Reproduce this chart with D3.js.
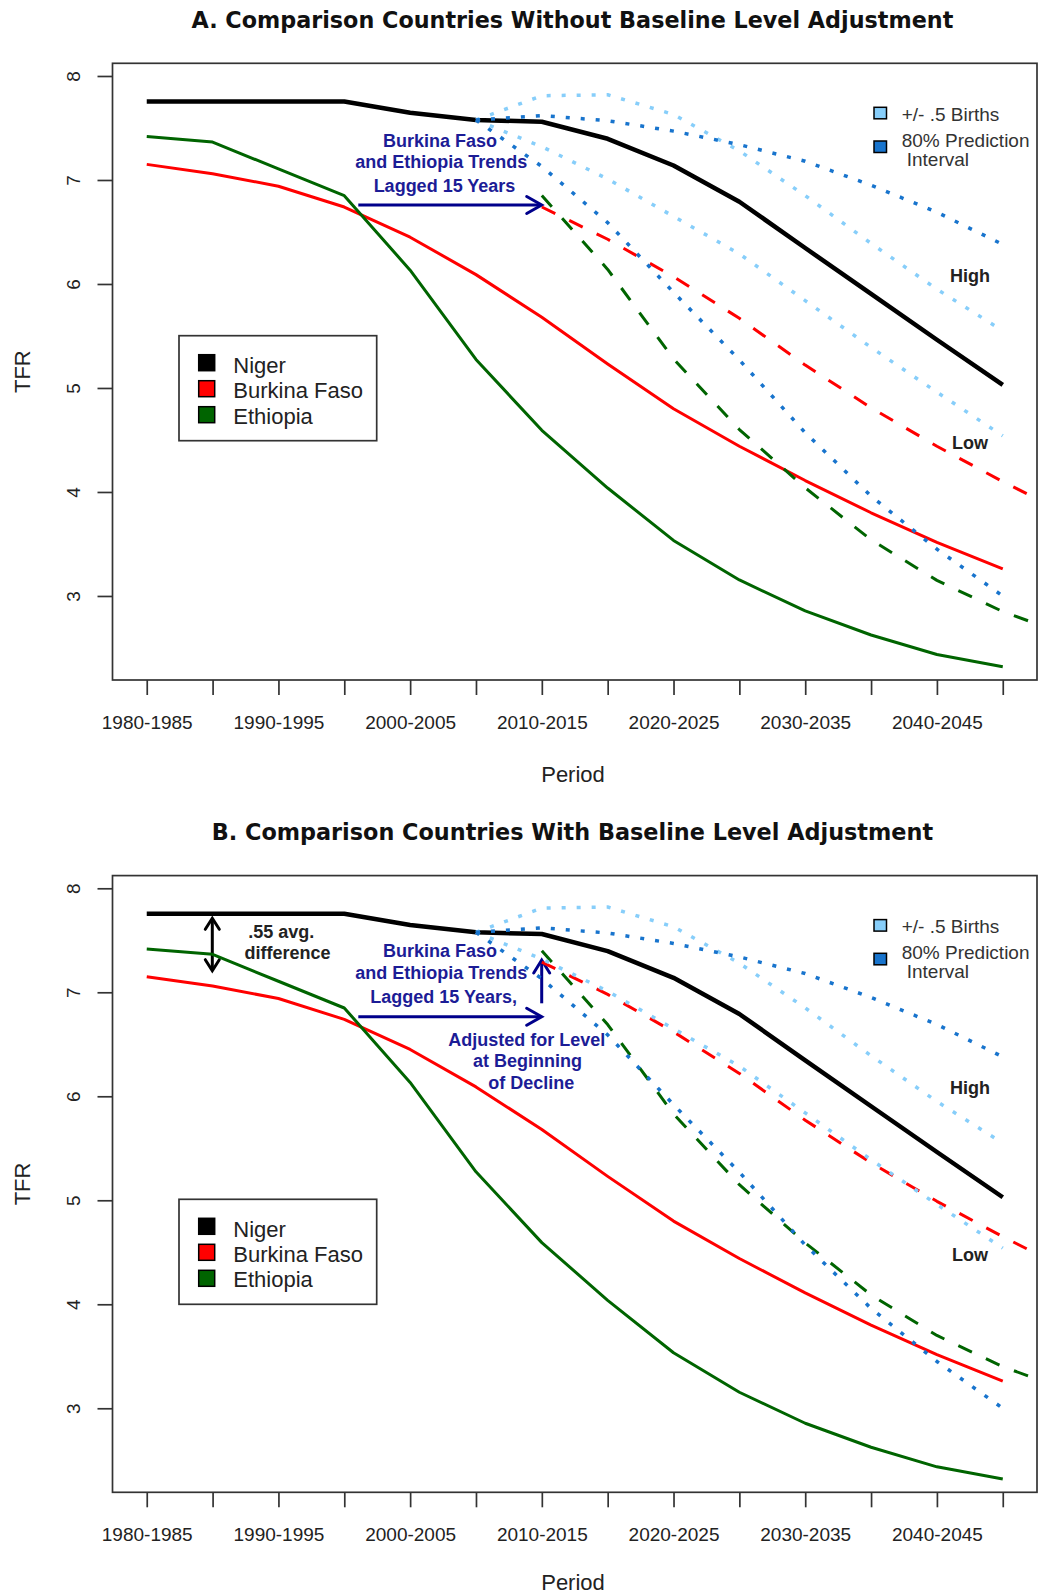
<!DOCTYPE html>
<html><head><meta charset="utf-8">
<script src="https://cdn.jsdelivr.net/npm/d3@7"></script>
<style>body{margin:0;background:#fff}svg{display:block}</style>
</head><body>
<svg id="chart" width="1038" height="1595"></svg>
<script>
// ---------------- data ----------------
const periods = ["1980-1985","1985-1990","1990-1995","1995-2000","2000-2005","2005-2010","2010-2015",
                 "2015-2020","2020-2025","2025-2030","2030-2035","2035-2040","2040-2045","2045-2050"];
const yTicks = [3,4,5,6,7,8];
const countries = ["Niger","Burkina Faso","Ethiopia"];
const niger    = [7.755,7.755,7.755,7.755,7.647,7.577,7.56,7.396,7.139,6.791,6.346,5.904,5.464,5.029];
const burkina  = [7.15,7.06,6.94,6.74,6.45,6.09,5.68,5.23,4.80,4.44,4.11,3.80,3.515,3.26];
const ethiopia = [7.417,7.365,7.106,6.849,6.133,5.274,4.593,4.038,3.534,3.154,2.856,2.625,2.437,2.32];
// lagged trends, periods 2010-2015 .. 2050-2055
const lagStart = 6;
const burkinaLagA  = [6.74,6.43,6.07,5.67,5.22,4.81,4.44,4.10,3.78];
const ethiopiaLagA = [6.85,6.14,5.28,4.60,4.04,3.54,3.15,2.85,2.62];
const burkinaLagB  = [7.29,6.98,6.62,6.22,5.77,5.36,4.99,4.65,4.33];
const ethiopiaLagB = [7.40,6.69,5.83,5.15,4.59,4.09,3.70,3.40,3.17];
// Niger projection intervals, periods 2005-2010 .. 2045-2050
const intStart = 5;
const halfBirthHigh = [7.577,7.81,7.82,7.63,7.28,6.85,6.39,5.95,5.55];
const halfBirthLow  = [7.577,7.32,7.01,6.65,6.29,5.84,5.39,4.96,4.54];
const pi80High      = [7.577,7.62,7.57,7.47,7.34,7.18,6.95,6.69,6.38];
const pi80Low       = [7.577,7.13,6.59,5.92,5.27,4.57,3.96,3.45,3.00];

const colors = {niger:"#000000", burkina:"#ff0000", ethiopia:"#006400", light:"#87cefa", dark:"#1874cd", navy:"#00008b", ann:"#1c1c96", text:"#222"};

// ---------------- layout ----------------
const svg = d3.select("#chart");
svg.append("rect").attr("width",1038).attr("height",1595).attr("fill","#fff");
const box = {left:112.5, right:1037, top:63.3, bottom:680};
const x = d3.scaleLinear().domain([-0.52, 13.52]).range([box.left, box.right]);
const y = d3.scaleLinear().domain([2.192, 8.122]).range([box.bottom, box.top]);
const SANS = "'Liberation Sans', Arial, sans-serif";
const WIDE = "'DejaVu Sans', Verdana, sans-serif";

function fitWidth(t, target){
  const w = t.node().getComputedTextLength();
  const fs = parseFloat(t.attr("font-size"));
  t.attr("font-size", (fs*target/w).toFixed(2));
}

function series(g, vals, start, color, width, dash){
  const line = d3.line().x((d,i)=>x(start+i)).y(d=>y(d));
  g.append("path").attr("d", line(vals)).attr("fill","none")
    .attr("stroke", color).attr("stroke-width", width)
    .attr("stroke-dasharray", dash || null).attr("stroke-linejoin","round");
}

function arrowHead(g, tx, ty, dir, color, w){
  let p;
  if(dir==="right") p = `M${tx-15},${ty-8.5}L${tx},${ty}L${tx-15},${ty+8.5}`;
  if(dir==="up") p = `M${tx-8},${ty+13}L${tx},${ty}L${tx+8},${ty+13}`;
  if(dir==="down") p = `M${tx-7},${ty-11}L${tx},${ty}L${tx+7},${ty-11}`;
  if(dir==="up2") p = `M${tx-7},${ty+11}L${tx},${ty}L${tx+7},${ty+11}`;
  g.append("path").attr("d",p).attr("fill","none").attr("stroke",color).attr("stroke-width",w)
    .attr("stroke-linejoin","miter").attr("stroke-linecap","round");
}

function panel(dy, id, title, titleW, lagB, lagE, legendTop, periodY){
  const g = svg.append("g").attr("transform",`translate(0,${dy})`);
  const t = g.append("text").attr("x",572.4).attr("y",27.8).attr("text-anchor","middle")
    .attr("font-family",WIDE).attr("font-weight","bold").attr("font-size",22).attr("fill","#111").text(title);
  fitWidth(t, titleW);

  svg.append("clipPath").attr("id","clip"+id).append("rect")
    .attr("x",box.left).attr("y",box.top+dy).attr("width",box.right-box.left).attr("height",box.bottom-box.top);
  const pg = svg.append("g").attr("clip-path",`url(#clip${id})`).append("g").attr("transform",`translate(0,${dy})`);

  series(pg, niger, 0, colors.niger, 4.5);
  series(pg, burkina, 0, colors.burkina, 3);
  series(pg, ethiopia, 0, colors.ethiopia, 3);
  series(pg, lagB, lagStart, colors.burkina, 3, "15,15.5");
  series(pg, lagE, lagStart, colors.ethiopia, 3, "15,15.5");
  series(pg, halfBirthHigh, intStart, colors.light, 3.5, "4,11");
  series(pg, halfBirthLow, intStart, colors.light, 3.5, "4,11");
  series(pg, pi80High, intStart, colors.dark, 3.5, "4,11");
  series(pg, pi80Low, intStart, colors.dark, 3.5, "4,11");

  g.append("rect").attr("x",box.left).attr("y",box.top).attr("width",box.right-box.left)
    .attr("height",box.bottom-box.top).attr("fill","none").attr("stroke","#333").attr("stroke-width",1.7);

  const xa = g.append("g").attr("transform",`translate(0,${box.bottom})`)
    .call(d3.axisBottom(x).tickValues(d3.range(periods.length)).tickSize(15).tickSizeOuter(0).tickPadding(20.5)
      .tickFormat(i => i%2===0 ? periods[i] : ""));
  xa.select(".domain").remove();
  xa.selectAll("line").attr("stroke","#333").attr("stroke-width",1.7);
  xa.selectAll("text").attr("font-family",SANS).attr("font-size",19).attr("fill",colors.text);

  const ya = g.append("g").attr("transform",`translate(${box.left},0)`)
    .call(d3.axisLeft(y).tickValues(yTicks).tickSize(15).tickSizeOuter(0).tickFormat(d3.format("d")));
  ya.select(".domain").remove();
  ya.selectAll("line").attr("stroke","#333").attr("stroke-width",1.7);
  ya.selectAll("text").attr("x",null).attr("dy",null).attr("text-anchor","middle")
    .attr("transform",`translate(${80-box.left},0) rotate(-90)`)
    .attr("font-family",SANS).attr("font-size",19).attr("fill",colors.text);

  g.append("text").attr("x",573).attr("y",periodY).attr("text-anchor","middle")
    .attr("font-family",SANS).attr("font-size",22).attr("fill",colors.text).text("Period");
  g.append("text").attr("transform",`translate(30.3,${(box.top+box.bottom)/2}) rotate(-90)`).attr("text-anchor","middle")
    .attr("font-family",SANS).attr("font-size",22).attr("fill",colors.text).text("TFR");

  const lg = g.append("g").attr("transform",`translate(179,${legendTop})`);
  lg.append("rect").attr("width",197.7).attr("height",105).attr("fill","#fff").attr("stroke","#333").attr("stroke-width",1.7);
  const cc = [colors.niger, colors.burkina, colors.ethiopia];
  countries.forEach((c,k)=>{
    lg.append("rect").attr("x",19.7).attr("y",27+26*k-8).attr("width",16).attr("height",16)
      .attr("fill",cc[k]).attr("stroke","#000").attr("stroke-width",1.5);
    lg.append("text").attr("x",54.3).attr("y",37.3+25.3*k).attr("font-family",SANS).attr("font-size",22)
      .attr("fill",colors.text).text(c);
  });

  const il = g.append("g");
  il.append("rect").attr("x",874).attr("y",107.3).attr("width",12.5).attr("height",11.5)
    .attr("fill",colors.light).attr("stroke","#000").attr("stroke-width",1.5);
  il.append("rect").attr("x",874).attr("y",141).attr("width",12.5).attr("height",11.5)
    .attr("fill",colors.dark).attr("stroke","#000").attr("stroke-width",1.5);
  [["+/- .5 Births",901.7,120.5],["80% Prediction",901.7,146.7],["Interval",906.7,166]].forEach(([s,tx,ty])=>{
    il.append("text").attr("x",tx).attr("y",ty).attr("font-family",SANS).attr("font-size",19)
      .attr("fill","#333").text(s);
  });
  [["High",281.7],["Low",449]].forEach(([s,ty])=>{
    g.append("text").attr("x",970).attr("y",ty).attr("text-anchor","middle").attr("font-family",SANS)
      .attr("font-weight","bold").attr("font-size",18).attr("fill",colors.text).text(s);
  });
  return g;
}

function ann(g, s, cx, by, color){
  g.append("text").attr("x",cx).attr("y",by).attr("text-anchor","middle").attr("font-family",SANS)
    .attr("font-weight","bold").attr("font-size",18).attr("fill",color).text(s);
}

// ---------------- panel A ----------------
const gA = panel(0, "A", "A. Comparison Countries Without Baseline Level Adjustment", 762, burkinaLagA, ethiopiaLagA, 335.7, 781.7);
ann(gA, "Burkina Faso", 440, 146.7, colors.ann);
ann(gA, "and Ethiopia Trends", 441.2, 168.3, colors.ann);
ann(gA, "Lagged 15 Years", 444.5, 191.7, colors.ann);
gA.append("line").attr("x1",358.3).attr("y1",205).attr("x2",540).attr("y2",205).attr("stroke",colors.navy).attr("stroke-width",3);
arrowHead(gA, 541.7, 205, "right", colors.navy, 3);

// ---------------- panel B ----------------
const dB = 812.3;
const gB = panel(dB, "B", "B. Comparison Countries With Baseline Level Adjustment", 721.5, burkinaLagB, ethiopiaLagB, 1199.3-dB, 1590-dB);
ann(gB, "Burkina Faso", 440, 957.3-dB, colors.ann);
ann(gB, "and Ethiopia Trends", 441.2, 979.3-dB, colors.ann);
ann(gB, "Lagged 15 Years,", 443.7, 1002.7-dB, colors.ann);
ann(gB, "Adjusted for Level", 526.7, 1046-dB, colors.ann);
ann(gB, "at Beginning", 527.5, 1067.3-dB, colors.ann);
ann(gB, "of Decline", 531.3, 1088.7-dB, colors.ann);
ann(gB, ".55 avg.", 281.3, 938.3-dB, colors.text);
ann(gB, "difference", 287.5, 959.3-dB, colors.text);
gB.append("line").attr("x1",358.3).attr("y1",1016.7-dB).attr("x2",540).attr("y2",1016.7-dB).attr("stroke",colors.navy).attr("stroke-width",3);
arrowHead(gB, 541.7, 1016.7-dB, "right", colors.navy, 3);
gB.append("line").attr("x1",541.7).attr("y1",1003.3-dB).attr("x2",541.7).attr("y2",962-dB).attr("stroke",colors.navy).attr("stroke-width",3);
arrowHead(gB, 541.7, 960-dB, "up", colors.navy, 3);
gB.append("line").attr("x1",212.3).attr("y1",920-dB).attr("x2",212.3).attr("y2",969-dB).attr("stroke","#000").attr("stroke-width",3);
arrowHead(gB, 212.3, 918.3-dB, "up2", "#000", 3);
arrowHead(gB, 212.3, 970.7-dB, "down", "#000", 3);
</script>
</body></html>
